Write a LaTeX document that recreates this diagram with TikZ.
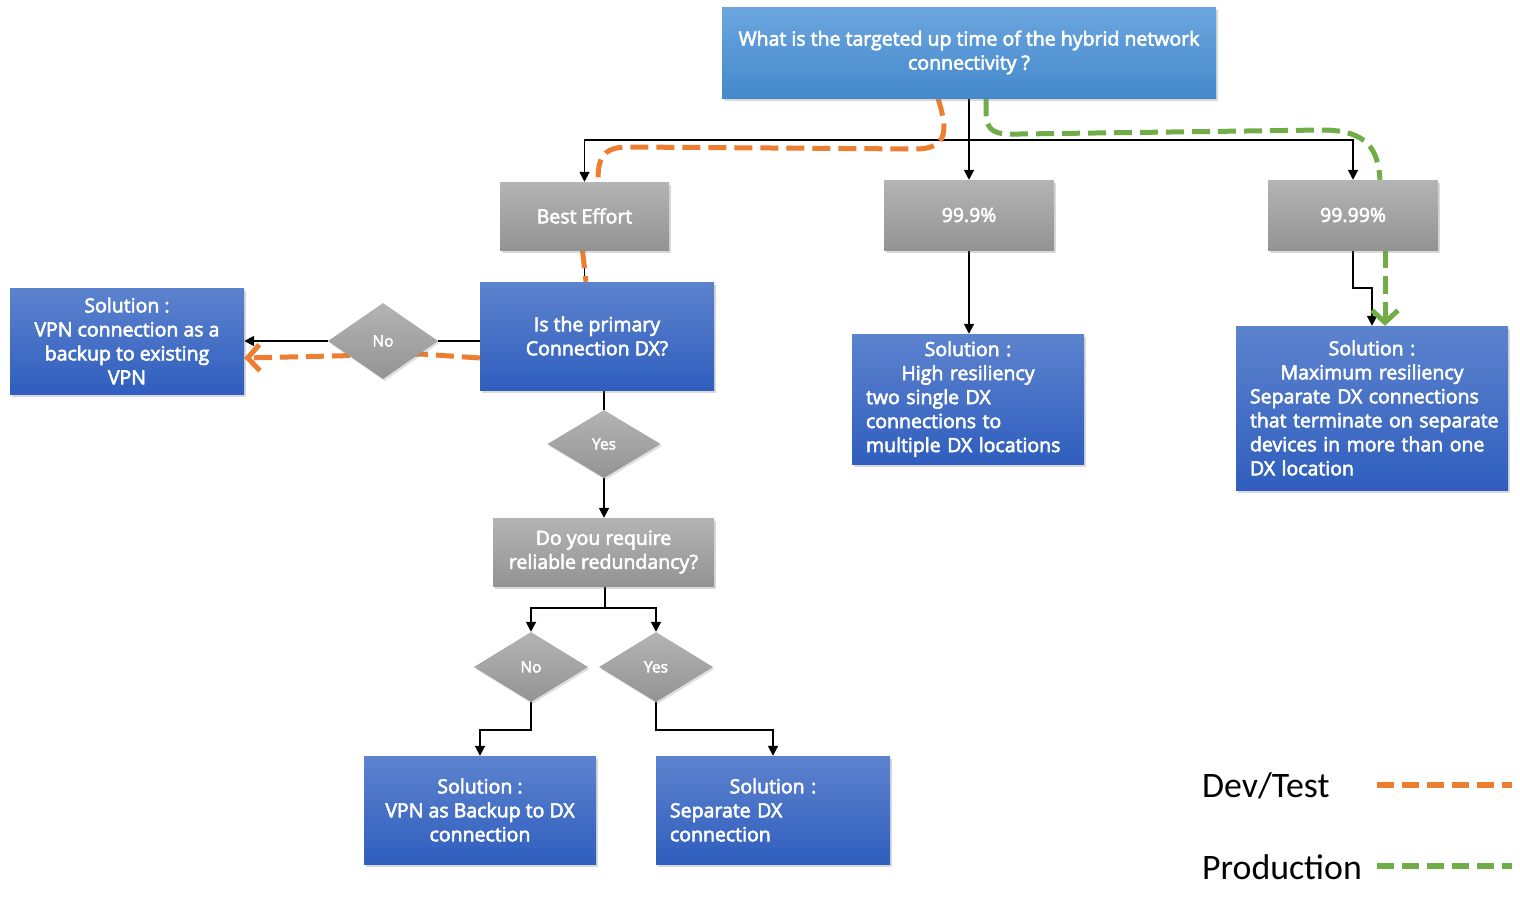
\documentclass[tikz,border=0pt]{standalone}
\usepackage{fontspec}
\setmainfont{Open Sans}[FakeBold=3]
\newfontfamily\legendfont{Carlito}
\usetikzlibrary{shapes.geometric,arrows.meta,shadows,calc}
\pgfdeclarelayer{bg}
\pgfsetlayers{bg,main}
\definecolor{bluetop}{RGB}{93,131,206}
\definecolor{bluebot}{RGB}{47,94,190}
\definecolor{qtop}{RGB}{108,166,223}
\definecolor{qbot}{RGB}{68,137,204}
\definecolor{graytop}{RGB}{180,180,180}
\definecolor{graybot}{RGB}{147,147,147}
\definecolor{devorange}{RGB}{237,125,49}
\definecolor{prodgreen}{RGB}{112,173,71}
\newcommand\mkc[1]{\makebox[\linewidth][c]{#1}}
\newcommand\mkl[1]{\mbox{#1}}
\tikzset{
  box/.style={rectangle, inner ysep=0pt, inner xsep=14pt, text=white,
    font=\fontsize{19.5}{24}\selectfont,
    drop shadow={opacity=0.3, shadow xshift=2pt, shadow yshift=-3pt}},
  bluebox/.style={box, top color=bluetop, bottom color=bluebot},
  graybox/.style={box, top color=graytop, bottom color=graybot},
  qbox/.style={box, top color=qtop, bottom color=qbot},
  decision/.style={diamond, inner sep=0pt, top color=graytop, bottom color=graybot,
    text=white, font=\fontsize{15.5}{18}\selectfont,
    drop shadow={opacity=0.25, shadow xshift=1.5pt, shadow yshift=-2pt}},
  conn/.style={draw=black, line width=1.8pt},
  arr/.style={conn, -{Triangle[width=10pt,length=10pt]}},
  devpath/.style={draw=devorange, line width=5pt, dash pattern=on 18pt off 8pt},
  prodpath/.style={draw=prodgreen, line width=5pt, dash pattern=on 18pt off 8pt},
  chev/.style={-{Straight Barb[length=12pt,width=26pt,line width=5pt]}},
  legend/.style={anchor=west, inner sep=0pt, font=\legendfont\fontsize{35.8}{40}\selectfont},
}
\begin{document}
\begin{tikzpicture}[x=1pt,y=-1pt]
\useasboundingbox (0,0) rectangle (1520,910);

% nodes
\node[qbox, minimum width=494pt, minimum height=91pt, align=center] (top) at (969,52.5)
  {What is the targeted up time of the hybrid network\\connectivity ?};
\node[graybox, minimum width=169pt, minimum height=68pt] (best) at (584.5,216) {Best Effort};
\node[graybox, minimum width=170pt, minimum height=70pt] (p999) at (969,215) {99.9\%};
\node[graybox, minimum width=170pt, minimum height=70pt] (p9999) at (1353,215) {99.99\%};
\node[bluebox, minimum width=234pt, minimum height=108pt, align=center] (primary) at (597,336)
  {Is the primary\\Connection DX?};
\node[bluebox, minimum width=234pt, minimum height=106pt, align=center] (solvpn) at (127,341)
  {Solution :\\VPN connection as a\\backup to existing\\VPN};
\node[decision, minimum width=110pt, minimum height=76pt] (noA) at (383,341) {No};
\node[decision, minimum width=113pt, minimum height=68pt] (yesA) at (604,444) {Yes};
\node[graybox, minimum width=221pt, minimum height=68pt, align=center] (req) at (603.5,552)
  {Do you require\\reliable redundancy?};
\node[decision, minimum width=114pt, minimum height=70pt] (noB) at (531,667) {No};
\node[decision, minimum width=114pt, minimum height=70pt] (yesB) at (656,667) {Yes};
\node[bluebox, minimum width=232pt, minimum height=108pt, align=center] (solA) at (480,810)
  {Solution :\\VPN as Backup to DX\\connection};
\node[bluebox, text width=206pt, minimum height=108pt, align=left] (solB) at (773,810)
  {\mkc{Solution :}\\\mkl{Separate DX}\\\mkl{connection}};
\node[bluebox, text width=204pt, minimum height=130pt, align=left] (solHigh) at (968,399)
  {\mkc{Solution :}\\\mkc{High resiliency}\\\mkl{two single DX}\\\mkl{connections to}\\\mkl{multiple DX locations}};
\node[bluebox, text width=244pt, minimum height=164pt, align=left] (solMax) at (1372,408)
  {\mkc{Solution :}\\\mkc{Maximum resiliency}\\\mkl{Separate DX connections}\\\mkl{that terminate on separate}\\\mkl{devices in more than one}\\\mkl{DX location}};

% legend
\node[legend] (devlbl) at (1202,786) {Dev/Test};
\node[legend] (prodlbl) at (1202,867) {Production};
\coordinate (devA) at (1377,785);
\coordinate (devB) at (1512,785);
\coordinate (prodA) at (1377,866);
\coordinate (prodB) at (1512,866);
\draw[draw=devorange, line width=6pt, dash pattern=on 17pt off 8pt] (devA) -- (devB);
\draw[draw=prodgreen, line width=6pt, dash pattern=on 17pt off 8pt] (prodA) -- (prodB);

\begin{pgfonlayer}{bg}
% black connectors
\coordinate (hub) at (969,140);
\draw[conn] (top.south) -- (hub);
\draw[arr] (hub) -| (best.north);
\draw[arr] (hub) -- (p999.north);
\draw[arr] (hub) -| (p9999.north);
\draw[conn] (best.south) -- (best.south |- primary.north);
\draw[conn] (noA.east -| primary.west) -- (noA.east);
\draw[arr] (noA.west) -- (solvpn.east |- noA.west);
\draw[conn] (primary.south -| yesA.north) -- (yesA.north);
\draw[arr] (yesA.south) -- (req.north -| yesA.south);
\coordinate (split) at (605,608);
\draw[conn] (req.south -| split) -- (split);
\draw[arr] (split) -| (noB.north);
\draw[arr] (split) -| (yesB.north);
\draw[arr] (noB.south) -- ++(0,28) -| (solA.north);
\draw[arr] (yesB.south) -- ++(0,28) -| (solB.north);
\draw[arr] (p999.south) -- (p999.south |- solHigh.north);
\draw[arr] (p9999.south) -- ++(0,38) -| (solMax.north);

% dev/test path
\draw[devpath] ([xshift=-31pt]top.south) .. controls (947,128) and (950,149) .. (915,149)
  -- (628,147) .. controls (601,147) and (598,160) .. ([xshift=13.5pt]best.north);
\draw[devpath] ([xshift=-2pt]best.south) -- ([xshift=-11pt]primary.north);
\coordinate (devmid) at (420,354);
\draw[devpath, chev] ([yshift=-22pt]primary.west) -- (devmid) -- ([yshift=-17pt]solvpn.east);

% production path
\draw[prodpath] ([xshift=17pt]top.south) -- (986,112) .. controls (986,132) and (995,135) .. (1020,134)
  -- (1322,130) .. controls (1368,130) and (1378,150) .. ([xshift=27pt]p9999.north);
\draw[prodpath, chev] ([xshift=32pt]p9999.south) -- ([xshift=13pt]solMax.north);
\end{pgfonlayer}
\end{tikzpicture}
\end{document}
